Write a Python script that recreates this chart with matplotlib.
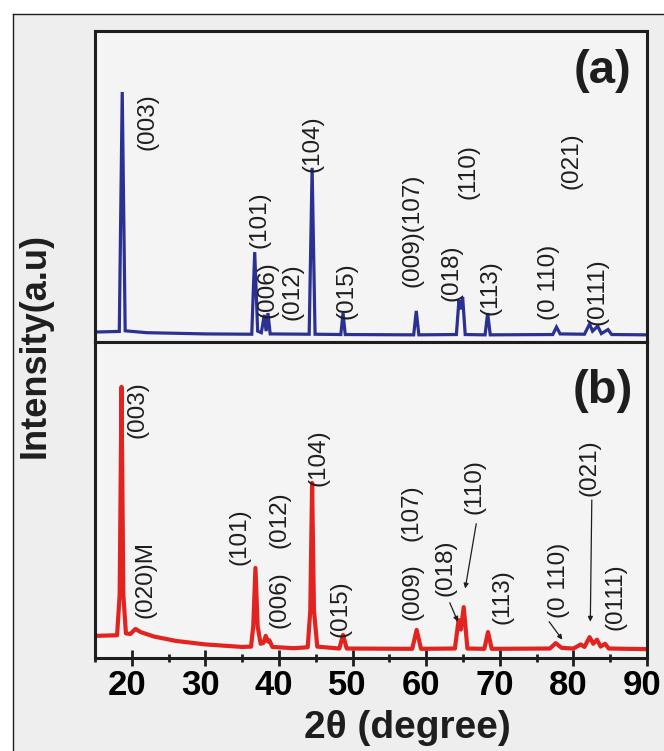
import matplotlib
matplotlib.use("Agg")
import matplotlib.pyplot as plt
import matplotlib.transforms as mtransforms
from matplotlib.lines import Line2D
from matplotlib.patches import Rectangle
from matplotlib.ticker import MultipleLocator

plt.rcParams["font.family"] = ["Liberation Sans", "DejaVu Sans"]

# ---- XRD trace (a): 2-theta (deg) and intensity (a.u.) vertices ----
two_theta_a = [15, 18.3, 18.7, 19.1, 22, 30, 36.3, 36.7, 37.1, 37.6, 38.0, 38.25,
               38.5, 38.8, 44.1, 44.5, 44.9, 48.4, 48.7, 49.0, 58.3, 58.65, 59.0,
               64.1, 64.45, 64.7, 64.95, 65.3, 68.0, 68.35, 68.7, 77.2, 77.7, 78.2,
               81.5, 82.2, 82.6, 83.3, 83.8, 84.7, 85.2, 90]
intensity_a = [3.2, 3.4, 80.4, 3.6, 3.0, 2.6, 2.5, 28.9, 3.5, 3.0, 8.7, 3.5,
               9.3, 2.6, 2.5, 56.0, 2.5, 2.4, 9.3, 2.4, 2.3, 10.0, 2.3,
               2.4, 13.5, 10.5, 14.5, 2.4, 2.3, 9.3, 2.3, 2.4, 4.8, 2.6,
               2.5, 5.8, 3.5, 5.1, 2.7, 4.0, 2.4, 2.3]

# ---- XRD trace (b) ----
two_theta_b = [15, 18.0, 18.35, 18.6, 18.85, 19.2, 19.8, 20.5, 21.2, 23, 26, 30,
               35, 36.2, 36.5, 36.8, 37.1, 37.5, 37.9, 38.2, 38.5, 38.7, 39.1, 42,
               43.9, 44.25, 44.5, 44.75, 45.2, 48.2, 48.7, 49.2, 58.1, 58.7, 59.3,
               63.9, 64.4, 64.7, 65.1, 65.6, 67.9, 68.4, 68.9, 76.8, 77.6, 78.4,
               80.0, 81.0, 81.5, 82.2, 82.7, 83.2, 83.7, 84.3, 84.8, 90]
intensity_b = [7.0, 7.2, 20, 85.8, 20, 7.8, 7.6, 9.2, 8.2, 6.8, 5.4, 4.3,
               3.5, 3.6, 10, 28.5, 10, 4.5, 4.8, 7.0, 5.2, 5.6, 3.5, 3.1,
               3.4, 15, 55.4, 15, 3.6, 3.0, 7.3, 3.0, 2.9, 8.9, 2.9,
               3.0, 12.0, 9.0, 16.1, 3.0, 2.9, 8.2, 2.9, 3.0, 4.7, 3.2,
               3.0, 4.3, 3.5, 6.6, 4.5, 5.8, 3.6, 4.5, 3.0, 2.8]

# ---- Miller index labels: text, 2-theta of label centre, intensity of label centre ----
labels_a = ["(003)", "(101)", "(006)", "(012)", "(104)", "(015)", "(009)(107)",
            "(018)", "(110)", "(113)", "(021)", "(0 110)", "(0111)"]
label_x_a = [22.1, 37.4, 38.4, 41.9, 44.6, 49.2, 58.2, 63.5, 65.7, 68.8, 79.8, 76.7, 83.3]
label_y_a = [70.7, 39.2, 16.7, 16.1, 63.7, 16.4, 36.0, 22.2, 54.7, 17.4, 58.2, 19.3, 16.1]

labels_b = ["(003)", "(020)M", "(101)", "(006)", "(012)", "(104)", "(015)", "(009)",
            "(107)", "(018)", "(110)", "(113)", "(0 110)", "(021)", "(0111)"]
label_x_b = [20.8, 21.8, 34.7, 40.1, 40.1, 45.3, 48.4, 58.1, 58.0, 62.6, 66.5, 70.3,
             78.0, 82.2, 85.7]
label_y_b = [78.5, 24.7, 38.3, 18.4, 43.7, 63.3, 15.5, 20.9, 45.9, 28.5, 54.1, 19.3,
             24.7, 60.1, 19.3]

# leader lines in panel (b): label, tail (x, y), head (x, y)
leaders_b = ["(018)", "(110)", "(0 110)", "(021)"]
leader_tail_b = [(63.2, 17.5), (66.8, 42.5), (76.7, 11.5), (82.5, 50.0)]
leader_head_b = [(64.3, 11.5), (65.3, 22.0), (78.5, 5.8), (82.3, 11.5)]

x_ticks = [20, 30, 40, 50, 60, 70, 80, 90]

BLUE = "#2b3192"
RED = "#e2231f"
INK = "#1e1e1e"

fig = plt.figure(figsize=(6.64, 7.51), dpi=100, facecolor="white")
W, H = 664, 751

# outer frame of the figure panel
fig.patches.append(Rectangle((13 / W, 0), 1 - 13 / W, 1 - 14 / H, transform=fig.transFigure,
                             facecolor="#eeeeee", edgecolor="none", zorder=-10))
fig.lines.append(Line2D([13 / W, 13 / W], [0, 1 - 14 / H], transform=fig.transFigure,
                        color=INK, lw=1.0, zorder=-5))
fig.lines.append(Line2D([13 / W, 1], [1 - 14 / H, 1 - 14 / H], transform=fig.transFigure,
                        color=INK, lw=1.0, zorder=-5))

left, right = 95 / W, 647 / W
top, mid, bottom = 1 - 31 / H, 1 - 342 / H, 1 - 658 / H
ax_a = fig.add_axes([left, mid, right - left, top - mid])
ax_b = fig.add_axes([left, bottom, right - left, mid - bottom], sharex=ax_a)

for ax in (ax_a, ax_b):
    ax.set_facecolor("#f4f4f4")
    ax.set_xlim(15, 90)
    ax.set_ylim(0, 100)
    ax.set_yticks([])
    for s in ax.spines.values():
        s.set_color(INK)
        s.set_linewidth(2.2)

ax_a.plot(two_theta_a, intensity_a, color=BLUE, lw=2.3, solid_joinstyle="miter")
ax_b.plot(two_theta_b, intensity_b, color=RED, lw=3.0, solid_joinstyle="round")

txt_kw = dict(rotation=90, ha="center", va="center", fontsize=17.5, color=INK)
for t, x, y in zip(labels_a, label_x_a, label_y_a):
    ax_a.text(x, y, t, **txt_kw)
for t, x, y in zip(labels_b, label_x_b, label_y_b):
    ax_b.text(x, y, t, **txt_kw)

for name, tail, head in zip(leaders_b, leader_tail_b, leader_head_b):
    ax_b.annotate("", xy=head, xytext=tail,
                  arrowprops=dict(arrowstyle="-|>", color=INK, lw=0.9,
                                  mutation_scale=7, shrinkA=0, shrinkB=0))

ax_a.text(84.0, 87.1, "(a)", ha="center", va="center", fontsize=34,
          fontweight="bold", color=INK)
ax_b.text(84.0, 84.5, "(b)", ha="center", va="center", fontsize=34,
          fontweight="bold", color=INK)

ax_a.tick_params(axis="x", which="both", bottom=False, labelbottom=False)
ax_b.xaxis.set_major_locator(MultipleLocator(10))
ax_b.xaxis.set_minor_locator(MultipleLocator(5))
ax_b.set_xticks(x_ticks)
ax_b.set_xticklabels([str(v) for v in x_ticks])
ax_b.tick_params(axis="x", which="major", direction="inout", length=12, width=2,
                 color=INK, labelsize=25, pad=2)
ax_b.tick_params(axis="x", which="minor", direction="inout", length=6, width=2,
                 color=INK)
# tick labels sit slightly left of their ticks
nudge = mtransforms.ScaledTranslation(-5 / 100, 0, fig.dpi_scale_trans)
for lbl in ax_b.get_xticklabels():
    lbl.set_fontweight("bold")
    lbl.set_transform(lbl.get_transform() + nudge)

fig.text(407 / W, 1 - 728 / H, "2θ (degree)", ha="center",
         va="center", fontsize=28, fontweight="bold", color=INK)
fig.text(35 / W, 1 - 346 / H, "Intensity(a.u)", rotation=90, ha="center",
         va="center", fontsize=26, fontweight="bold", color=INK)

fig.savefig("out.png", dpi=100, facecolor=fig.get_facecolor())
